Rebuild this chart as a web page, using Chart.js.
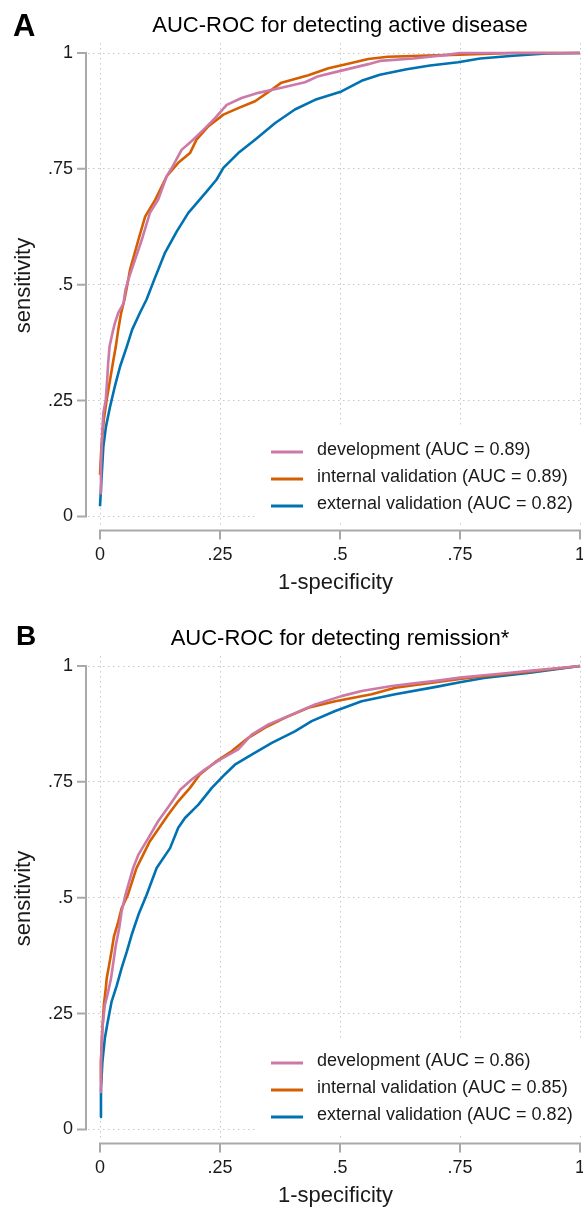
<!DOCTYPE html>
<html>
<head>
<meta charset="utf-8">
<script src="https://cdn.jsdelivr.net/npm/chart.js@4/dist/chart.umd.min.js"></script>
<style>
  html, body { margin:0; padding:0; background:#fff; overflow:hidden; }
  body { width:583px; height:1207px; position:relative; }
  .panel { position:absolute; left:0; width:583px; height:613px; }
  #pa { top:0; }
  #pb { top:613px; }
</style>
</head>
<body>
<div class="panel" id="pa"><canvas id="chartA" width="583" height="613"></canvas></div>
<div class="panel" id="pb"><canvas id="chartB" width="583" height="613"></canvas></div>
<script>
// ---------- DATA ----------
const tickValues = [0, 0.25, 0.5, 0.75, 1];
const tickLabels = ["0", ".25", ".5", ".75", "1"];
const seriesNames = ["development", "internal validation", "external validation"];
const seriesColors = ["#CC79A7", "#D55E00", "#0072B2"];

// Panel A: active disease
const titleA = "AUC-ROC for detecting active disease";
const aucA = ["0.89", "0.89", "0.82"];
const devA_fpr = [0, 0.002, 0.005, 0.007, 0.012, 0.015, 0.017, 0.020, 0.026, 0.031, 0.038, 0.049, 0.053, 0.059, 0.087, 0.104, 0.121, 0.139, 0.151, 0.170, 0.194, 0.219, 0.240, 0.264, 0.295, 0.330, 0.378, 0.427, 0.455, 0.503, 0.559, 0.583, 0.653, 0.722, 0.75, 1];
const devA_tpr = [0.05, 0.108, 0.187, 0.223, 0.252, 0.295, 0.331, 0.367, 0.396, 0.417, 0.439, 0.460, 0.489, 0.511, 0.597, 0.655, 0.683, 0.734, 0.755, 0.791, 0.813, 0.838, 0.860, 0.888, 0.903, 0.914, 0.925, 0.937, 0.950, 0.962, 0.976, 0.983, 0.988, 0.996, 1, 1];
const intA_fpr = [0, 0.003, 0.008, 0.014, 0.021, 0.028, 0.033, 0.038, 0.044, 0.051, 0.059, 0.0625, 0.080, 0.094, 0.115, 0.139, 0.163, 0.1875, 0.201, 0.226, 0.257, 0.288, 0.323, 0.358, 0.378, 0.434, 0.476, 0.517, 0.559, 0.600, 0.70, 0.86, 1];
const intA_tpr = [0.09, 0.151, 0.209, 0.252, 0.295, 0.338, 0.367, 0.403, 0.439, 0.468, 0.511, 0.532, 0.597, 0.647, 0.683, 0.734, 0.763, 0.784, 0.813, 0.842, 0.867, 0.881, 0.896, 0.921, 0.936, 0.952, 0.967, 0.977, 0.987, 0.992, 0.995, 1, 1];
const extA_fpr = [0, 0.003, 0.007, 0.0125, 0.021, 0.031, 0.042, 0.056, 0.067, 0.083, 0.097, 0.113, 0.135, 0.160, 0.184, 0.222, 0.243, 0.257, 0.288, 0.323, 0.365, 0.406, 0.448, 0.503, 0.545, 0.583, 0.639, 0.6875, 0.746, 0.792, 0.861, 0.93, 1];
const extA_tpr = [0.022, 0.079, 0.151, 0.194, 0.237, 0.281, 0.324, 0.367, 0.403, 0.439, 0.468, 0.511, 0.568, 0.615, 0.655, 0.701, 0.727, 0.752, 0.784, 0.813, 0.849, 0.878, 0.899, 0.917, 0.940, 0.953, 0.965, 0.973, 0.980, 0.988, 0.994, 0.999, 1];

// Panel B: remission
const titleB = "AUC-ROC for detecting remission*";
const aucB = ["0.86", "0.85", "0.82"];
const devB_fpr = [0, 0.002, 0.005, 0.010, 0.017, 0.023, 0.028, 0.033, 0.040, 0.045, 0.053, 0.069, 0.080, 0.101, 0.121, 0.146, 0.167, 0.191, 0.219, 0.25, 0.288, 0.316, 0.351, 0.399, 0.448, 0.503, 0.545, 0.608, 0.65, 0.7, 0.75, 0.8, 0.85, 0.9, 0.95, 1];
const devB_tpr = [0.081, 0.146, 0.218, 0.268, 0.297, 0.326, 0.362, 0.398, 0.434, 0.470, 0.506, 0.564, 0.593, 0.629, 0.665, 0.701, 0.733, 0.755, 0.777, 0.798, 0.820, 0.852, 0.874, 0.895, 0.917, 0.935, 0.946, 0.957, 0.962, 0.968, 0.975, 0.980, 0.985, 0.990, 0.995, 1];
const intB_fpr = [0, 0.002, 0.005, 0.008, 0.012, 0.014, 0.019, 0.024, 0.029, 0.038, 0.045, 0.058, 0.076, 0.104, 0.142, 0.163, 0.1875, 0.208, 0.243, 0.274, 0.309, 0.344, 0.385, 0.434, 0.490, 0.566, 0.615, 0.7, 0.75, 0.8, 0.9, 1];
const intB_tpr = [0.10, 0.146, 0.218, 0.268, 0.304, 0.326, 0.355, 0.384, 0.416, 0.448, 0.477, 0.506, 0.564, 0.622, 0.679, 0.708, 0.737, 0.766, 0.795, 0.816, 0.845, 0.867, 0.888, 0.910, 0.924, 0.939, 0.953, 0.965, 0.972, 0.978, 0.988, 1];
const extB_fpr = [0, 0.002, 0.005, 0.010, 0.016, 0.024, 0.035, 0.045, 0.056, 0.066, 0.080, 0.097, 0.118, 0.146, 0.163, 0.177, 0.205, 0.233, 0.260, 0.281, 0.316, 0.358, 0.406, 0.441, 0.490, 0.545, 0.615, 0.7, 0.75, 0.8, 0.9, 1];
const extB_tpr = [0.027, 0.088, 0.146, 0.196, 0.232, 0.275, 0.311, 0.348, 0.384, 0.420, 0.463, 0.506, 0.564, 0.607, 0.651, 0.672, 0.701, 0.737, 0.766, 0.787, 0.809, 0.834, 0.859, 0.881, 0.903, 0.924, 0.939, 0.955, 0.965, 0.974, 0.986, 1];

// ---------- RENDERING ----------
const FONT = "'Liberation Sans', Arial, Helvetica, sans-serif";
Chart.defaults.font.family = FONT;
Chart.defaults.color = "#1a1a1a";

function pts(xs, ys) { return xs.map((x, i) => ({ x: x, y: ys[i] })); }

const offsetAxes = {
  id: 'offsetAxes',
  afterDraw(chart) {
    const { ctx, chartArea, scales: { x, y } } = chart;
    const ax = chartArea.left - 2;
    const ay = chartArea.bottom + 2.5;
    ctx.save();
    ctx.strokeStyle = '#a9a9a9';
    ctx.lineWidth = 2;
    ctx.beginPath();
    ctx.moveTo(ax, y.getPixelForValue(0) + 1);
    ctx.lineTo(ax, y.getPixelForValue(1) - 1);
    tickValues.forEach(v => { const p = y.getPixelForValue(v); ctx.moveTo(ax - 9, p); ctx.lineTo(ax, p); });
    ctx.moveTo(x.getPixelForValue(0) - 1, ay);
    ctx.lineTo(x.getPixelForValue(1) + 1, ay);
    tickValues.forEach(v => { const p = x.getPixelForValue(v); ctx.moveTo(p, ay); ctx.lineTo(p, ay + 9); });
    ctx.stroke();
    ctx.restore();
  }
};

const headers = {
  id: 'headers',
  afterDraw(chart, args, opts) {
    const { ctx, scales: { x } } = chart;
    ctx.save();
    ctx.fillStyle = '#000';
    ctx.textBaseline = 'alphabetic';
    ctx.textAlign = 'left';
    ctx.font = 'bold ' + opts.letterSize + 'px ' + FONT;
    ctx.fillText(opts.letter, opts.letterX, opts.letterY);
    ctx.textAlign = 'center';
    ctx.font = '22px ' + FONT;
    ctx.fillText(opts.title, x.getPixelForValue(0.5), 32);
    ctx.restore();
  }
};

const boxLegend = {
  id: 'boxLegend',
  afterDatasetsDraw(chart, args, opts) {
    const { ctx } = chart;
    ctx.save();
    ctx.fillStyle = '#fff';
    ctx.fillRect(opts.left, opts.top, 583 - opts.left, opts.height);
    ctx.font = '18px ' + FONT;
    ctx.textBaseline = 'middle';
    ctx.textAlign = 'left';
    chart.data.datasets.forEach((ds, i) => {
      const yy = opts.firstY + i * opts.step;
      ctx.strokeStyle = ds.borderColor;
      ctx.lineWidth = 3;
      ctx.beginPath();
      ctx.moveTo(opts.lineX, yy);
      ctx.lineTo(opts.lineX + 32, yy);
      ctx.stroke();
      ctx.fillStyle = '#1a1a1a';
      ctx.fillText(ds.label, opts.textX, yy - 1.5);
    });
    ctx.restore();
  }
};

function makeChart(id, title, letter, letterSize, letterX, letterY, series, aucs, legendY) {
  const datasets = series.map((s, i) => ({
    label: seriesNames[i] + ' (AUC = ' + aucs[i] + ')',
    data: pts(s[0], s[1]),
    borderColor: seriesColors[i],
    backgroundColor: seriesColors[i],
    borderWidth: 2.6,
    pointRadius: 0,
    showLine: true,
    tension: 0,
    fill: false,
    borderJoinStyle: 'round'
  }));
  const tickCallback = (v) => { const k = tickValues.indexOf(v); return k >= 0 ? tickLabels[k] : ''; };
  return new Chart(document.getElementById(id), {
    type: 'scatter',
    data: { datasets },
    options: {
      responsive: false,
      animation: false,
      layout: { padding: { top: 43, left: 0, right: 0, bottom: 0 } },
      plugins: {
        legend: { display: false },
        tooltip: { enabled: false },
        headers: { title: title, letter: letter, letterSize: letterSize, letterX: letterX, letterY: letterY },
        boxLegend: { left: 256, top: legendY - 24, height: 94, firstY: legendY, step: 27, lineX: 271, textX: 317 }
      },
      scales: {
        x: {
          type: 'linear', min: -0.025, max: 1.00625,
          afterBuildTicks: s => { s.ticks = tickValues.map(v => ({ value: v })); },
          afterFit: s => { s.height = 85; s.paddingLeft = 0; s.paddingRight = 0; },
          ticks: { callback: tickCallback, font: { size: 18 }, padding: 16, maxRotation: 0, autoSkip: false, color: '#1a1a1a' },
          grid: { color: '#c8c8c8', lineWidth: 1, drawTicks: false },
          border: { display: false, dash: [1.5, 3.5] },
          title: { display: true, text: '1-specificity', font: { size: 22 }, padding: { top: 0, bottom: 17 }, color: '#1a1a1a' }
        },
        y: {
          type: 'linear', min: -0.025, max: 1.0216,
          afterBuildTicks: s => { s.ticks = tickValues.map(v => ({ value: v })); },
          afterFit: s => { s.width = 88; s.paddingTop = 0; s.paddingBottom = 0; },
          ticks: { callback: tickCallback, font: { size: 18 }, padding: 15, autoSkip: false, color: '#1a1a1a' },
          grid: { color: '#c8c8c8', lineWidth: 1, drawTicks: false },
          border: { display: false, dash: [1.5, 3.5] },
          title: { display: true, text: 'sensitivity', font: { size: 22 }, padding: { top: 11, bottom: 0 }, color: '#1a1a1a' }
        }
      }
    },
    plugins: [offsetAxes, headers, boxLegend]
  });
}

makeChart('chartA', titleA, 'A', 31, 13, 36,
  [[devA_fpr, devA_tpr], [intA_fpr, intA_tpr], [extA_fpr, extA_tpr]], aucA, 452);
makeChart('chartB', titleB, 'B', 28, 16, 32,
  [[devB_fpr, devB_tpr], [intB_fpr, intB_tpr], [extB_fpr, extB_tpr]], aucB, 450);
</script>
</body>
</html>
